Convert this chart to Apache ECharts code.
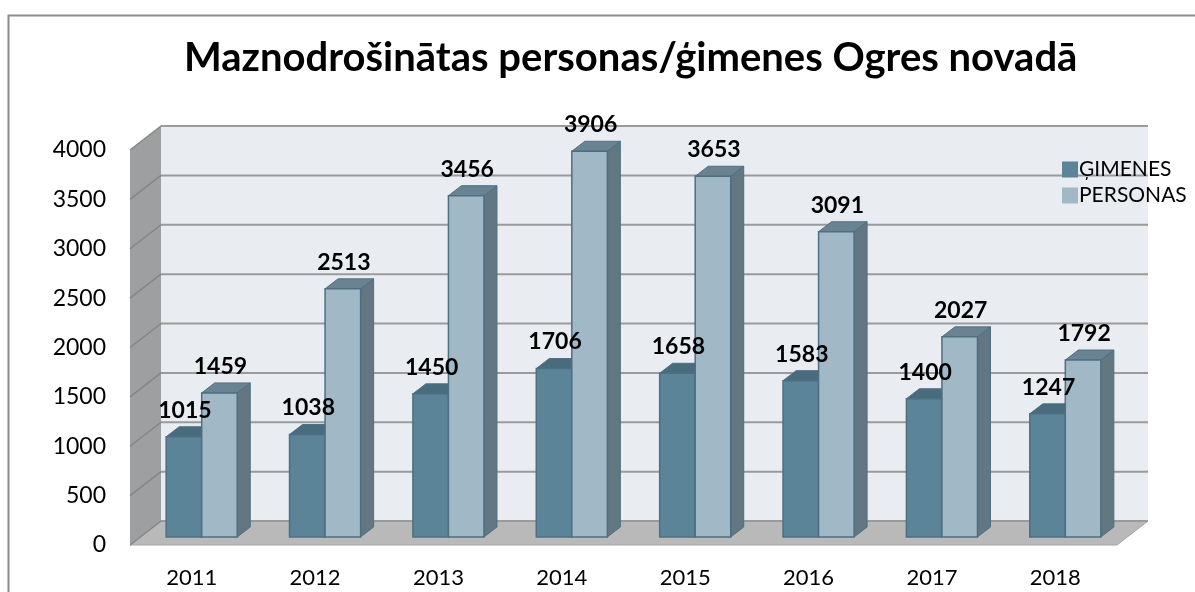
<!DOCTYPE html>
<html>
<head>
<meta charset="utf-8">
<script src="https://cdn.jsdelivr.net/npm/echarts@6/dist/echarts.min.js"></script>
<style>
  html, body { margin: 0; padding: 0; background: #fff; }
  #chart { width: 1195px; height: 592px; }
</style>
</head>
<body>
<div id="chart"></div>
<script>
// dati
const years = ['2011', '2012', '2013', '2014', '2015', '2016', '2017', '2018'];
const gimenes = [1015, 1038, 1450, 1706, 1658, 1583, 1400, 1247];
const personas = [1459, 2513, 3456, 3906, 3653, 3091, 2027, 1792];
const yTicks = [0, 500, 1000, 1500, 2000, 2500, 3000, 3500, 4000];

const FONT = 'Lato, "Noto Sans", sans-serif';
// 3D nobīdes
const WALL = [31, -24];   // aizmugurējā siena
const BAR = [10, -8];     // stabiņu priekšējā plakne
const DEPTH = [13, -10];  // stabiņa dziļums

const myChart = echarts.init(document.getElementById('chart'));

// sienas un grīda
function renderWalls(params, api) {
    const cs = params.coordSys;
    const x0 = cs.x, x1 = cs.x + cs.width;
    const yTop = cs.y, yBot = cs.y + cs.height;
    return {
        type: 'group',
        children: [
            { type: 'polygon', shape: { points: [[x0 + WALL[0], yTop + WALL[1]], [x1 + WALL[0], yTop + WALL[1]], [x1 + WALL[0], yBot + WALL[1]], [x0 + WALL[0], yBot + WALL[1]]] },
              style: { fill: '#E9EDF2' } },
            { type: 'polygon', shape: { points: [[x0, yTop], [x0 + WALL[0], yTop + WALL[1]], [x0 + WALL[0], yBot + WALL[1]], [x0, yBot]] },
              style: { fill: '#9D9FA1' } },
            { type: 'polygon', shape: { points: [[x0, yBot], [x0 + WALL[0], yBot + WALL[1]], [x1 + WALL[0], yBot + WALL[1]], [x1, yBot]] },
              style: { fill: '#B9B9B9', stroke: '#A4A4A4', lineWidth: 1 } }
        ]
    };
}

// režģa līnijas
function renderGrid(params, api) {
    const cs = params.coordSys;
    const x0 = cs.x, x1 = cs.x + cs.width;
    const y = api.coord([0, api.value(0)])[1];
    return {
        type: 'group',
        children: [
            { type: 'line', shape: { x1: x0 + WALL[0], y1: y + WALL[1], x2: x1 + WALL[0], y2: y + WALL[1] },
              style: { stroke: '#9A9A9A', lineWidth: 2 } },
            { type: 'line', shape: { x1: x0, y1: y, x2: x0 + WALL[0], y2: y + WALL[1] },
              style: { stroke: '#858585', lineWidth: 1.5 } }
        ]
    };
}

function barBox(api, side) {
    const idx = api.value(0);
    const val = api.value(1);
    const base = api.coord([idx, 0]);
    const top = api.coord([idx, val]);
    const bw = api.size([1, 0])[0] * 0.288;
    const left = base[0] + BAR[0] + (side === 0 ? -bw : 0);
    return { left: left, right: left + bw, bw: bw, yb: base[1] + BAR[1], yt: top[1] + BAR[1], val: val };
}

function makeBar(side, front, sideColor, topColor) {
    return function (params, api) {
        const b = barBox(api, side);
        const dx = DEPTH[0], dy = DEPTH[1];
        return {
            type: 'group',
            children: [
                { type: 'polygon', shape: { points: [[b.right, b.yt], [b.right + dx, b.yt + dy], [b.right + dx, b.yb + dy], [b.right, b.yb]] },
                  style: { fill: sideColor, stroke: '#4E6F82', lineWidth: 1 } },
                { type: 'polygon', shape: { points: [[b.left, b.yt], [b.left + dx, b.yt + dy], [b.right + dx, b.yt + dy], [b.right, b.yt]] },
                  style: { fill: topColor, stroke: '#4E6F82', lineWidth: 1 } },
                { type: 'rect', shape: { x: b.left, y: b.yt, width: b.bw, height: b.yb - b.yt },
                  style: { fill: front, stroke: '#4E6F82', lineWidth: 1.5 } }
            ]
        };
    };
}

function makeLabel(side) {
    return function (params, api) {
        const b = barBox(api, side);
        return {
            type: 'text', x: b.left + b.bw / 2 + 1, y: b.yt + DEPTH[1] - 5,
            style: { text: String(b.val), font: 'bold 23px ' + FONT, fill: '#000', align: 'center', verticalAlign: 'bottom' }
        };
    };
}

const option = {
    animation: false,
    title: {
        text: 'Maznodrošinātas personas/ģimenes Ogres novadā',
        left: 179,
        top: 33,
        textStyle: { fontFamily: FONT, fontWeight: 'bold', fontSize: 40, color: '#000' }
    },
    graphic: [{
        type: 'rect', shape: { x: 8.5, y: 15.5, width: 1300, height: 700 },
        style: { fill: 'none', stroke: '#8C8C8C', lineWidth: 2 }, z: -10
    }],
    legend: {
        orient: 'vertical',
        left: 1057,
        top: 154,
        itemWidth: 16,
        itemHeight: 16,
        itemGap: 5,
        icon: 'rect',
        textStyle: { fontFamily: FONT, fontSize: 21, color: '#000', padding: [0, 0, 0, -4] },
        data: ['ĢIMENES', 'PERSONAS']
    },
    grid: { left: 130, top: 150, width: 987, height: 395 },
    xAxis: {
        type: 'category',
        data: years,
        axisLine: { show: false },
        axisTick: { show: false },
        axisLabel: { fontFamily: FONT, fontSize: 22, color: '#000', margin: 22 }
    },
    yAxis: {
        type: 'value',
        min: 0, max: 4000, interval: 500,
        axisLine: { show: false },
        axisTick: { show: false },
        splitLine: { show: false },
        axisLabel: { fontFamily: FONT, fontSize: 23, color: '#000', margin: 24, formatter: v => String(v) }
    },
    series: [
        { type: 'custom', name: 'walls', silent: true, z: 1, renderItem: renderWalls, data: [[0, 0]] },
        { type: 'custom', name: 'grid', silent: true, z: 2, renderItem: renderGrid, data: yTicks.map(v => [v]), encode: { y: 0 } },
        { type: 'custom', name: 'ĢIMENES', z: 3, itemStyle: { color: '#5B8499', borderColor: '#45677A' },
          renderItem: makeBar(0, '#5B8499', '#52707F', '#486B7E'),
          data: gimenes.map((v, i) => [i, v]) },
        { type: 'custom', name: 'PERSONAS', z: 4, itemStyle: { color: '#A1B9C7', borderColor: '#5E7D8F' },
          renderItem: makeBar(1, '#A1B9C7', '#627782', '#6A8392'),
          data: personas.map((v, i) => [i, v]) },
        { type: 'custom', name: 'ĢIMENES vērtības', silent: true, z: 10, renderItem: makeLabel(0),
          data: gimenes.map((v, i) => [i, v]) },
        { type: 'custom', name: 'PERSONAS vērtības', silent: true, z: 10, renderItem: makeLabel(1),
          data: personas.map((v, i) => [i, v]) }
    ]
};
myChart.setOption(option);
</script>
</body>
</html>
